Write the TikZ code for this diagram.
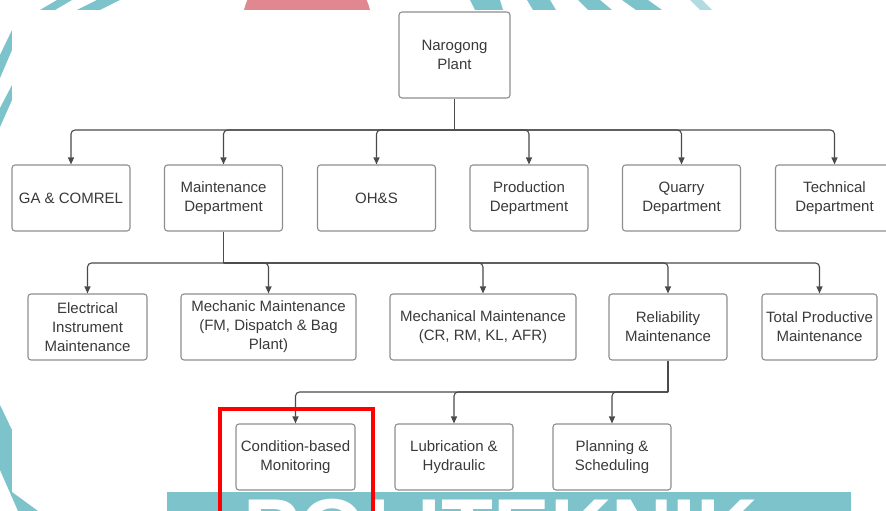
\documentclass[tikz,border=0pt]{standalone}
\usepackage{fontspec}
\setmainfont{Liberation Sans}
\usetikzlibrary{arrows.meta}

\definecolor{boxline}{HTML}{8E8E8E}
\definecolor{linkline}{HTML}{4A4A4A}
\definecolor{txt}{HTML}{3A3A3A}
\definecolor{wmteal}{HTML}{7DC3CB}
\definecolor{wmred}{HTML}{E1878F}

\begin{document}
\begin{tikzpicture}[
    x=1pt, y=-1pt,
    unit/.style={
        draw=boxline,
        line width=1.1pt,
        rounded corners=3pt,
        fill=white,
        align=center,
        text=txt,
        font=\fontsize{15}{19}\selectfont,
        inner sep=2pt,
        minimum width=118pt,
        minimum height=66pt
    },
    trunk/.style={draw=linkline, line width=1.1pt},
    link/.style={trunk, rounded corners=4pt, -{Triangle[length=7pt,width=6pt]}}
]

\useasboundingbox (0,0) rectangle (886,511);

% watermark behind the chart
\fill[wmred] (307,26) circle (65pt);
\fill[wmteal] (57,0) -- (72,0) -- (55,10) -- (40,10) -- cycle;
\fill[wmteal] (97,0) -- (120,0) -- (100,10) -- (77,10) -- cycle;
\fill[wmteal] (12,30) -- (12,50) -- (0,78) -- (0,55) -- cycle;
\fill[wmteal] (12,85) -- (12,100) -- (0,127) -- (0,108) -- cycle;
\fill[wmteal] (0,405) -- (12,430) -- (12,492) -- (38,511) -- (18,511) -- (0,470) -- cycle;
\fill[wmteal] (470,0) -- (500,0) -- (503,10) -- (475,10) -- cycle;
\fill[wmteal] (527,0) -- (550,0) -- (556,10) -- (533,10) -- cycle;
\fill[wmteal] (578,0) -- (600,0) -- (612,10) -- (588,10) -- cycle;
\fill[wmteal] (622,0) -- (648,0) -- (662,10) -- (636,10) -- cycle;
\fill[wmteal!60] (690,0) -- (702,0) -- (712,10) -- (700,10) -- cycle;
\fill[white] (12,10) rectangle (886,492);
\begin{scope}
    \clip (167,492) rectangle (851,511);
    \fill[wmteal] (167,492) rectangle (851,511);
    \node[text=white, font=\fontsize{85}{85}\selectfont\bfseries, anchor=base west, inner sep=0pt] (wmtext) at (243,558) {POLITEKNIK};
\end{scope}

\node[unit, minimum width=111pt, minimum height=86pt] (plant) at (454.5,55) {Narogong\\Plant};

\node[unit] (gacomrel) at (71,198) {GA \& COMREL};
\node[unit] (maintdept) at (223.5,198) {Maintenance\\Department};
\node[unit] (ohs) at (376.5,198) {OH\&S};
\node[unit] (proddept) at (529,198) {Production\\Department};
\node[unit] (quarrydept) at (681.5,198) {Quarry\\Department};
\node[unit] (techdept) at (834.5,198) {Technical\\Department};

\node[unit, minimum width=119pt] (elecinst) at (87.5,327) {Electrical\\Instrument\\Maintenance};
\node[unit, minimum width=175pt] (mechanic) at (268.5,327) {Mechanic Maintenance\\(FM, Dispatch \& Bag\\Plant)};
\node[unit, minimum width=186pt] (mechanical) at (483,327) {Mechanical Maintenance\\(CR, RM, KL, AFR)};
\node[unit] (reliability) at (668,327) {Reliability\\Maintenance};
\node[unit, minimum width=115pt] (tpm) at (819.5,327) {Total Productive\\Maintenance};

\node[unit, minimum width=119pt] (cbm) at (295.5,457) {Condition-based\\Monitoring};
\node[unit] (lubrication) at (454,457) {Lubrication \&\\Hydraulic};
\node[unit] (planning) at (612,457) {Planning \&\\Scheduling};

\coordinate (split1) at (454.5,130);
\coordinate (split2) at (223.5,263);
\coordinate (split3) at (668,392);

\draw[trunk] (plant) -- (split1);
\foreach \dept in {gacomrel,maintdept,ohs,proddept,quarrydept,techdept}
    \draw[link] (split1) -| (\dept);

\draw[trunk] (maintdept) -- (split2);
\foreach \sect in {elecinst,mechanic,mechanical,reliability,tpm}
    \draw[link] (split2) -| (\sect);

\draw[trunk] (reliability) -- (split3);
\foreach \team in {cbm,lubrication,planning}
    \draw[link] (split3) -| (\team);

\draw[red, line width=4pt] (220,409) rectangle (373,520);

\end{tikzpicture}
\end{document}
